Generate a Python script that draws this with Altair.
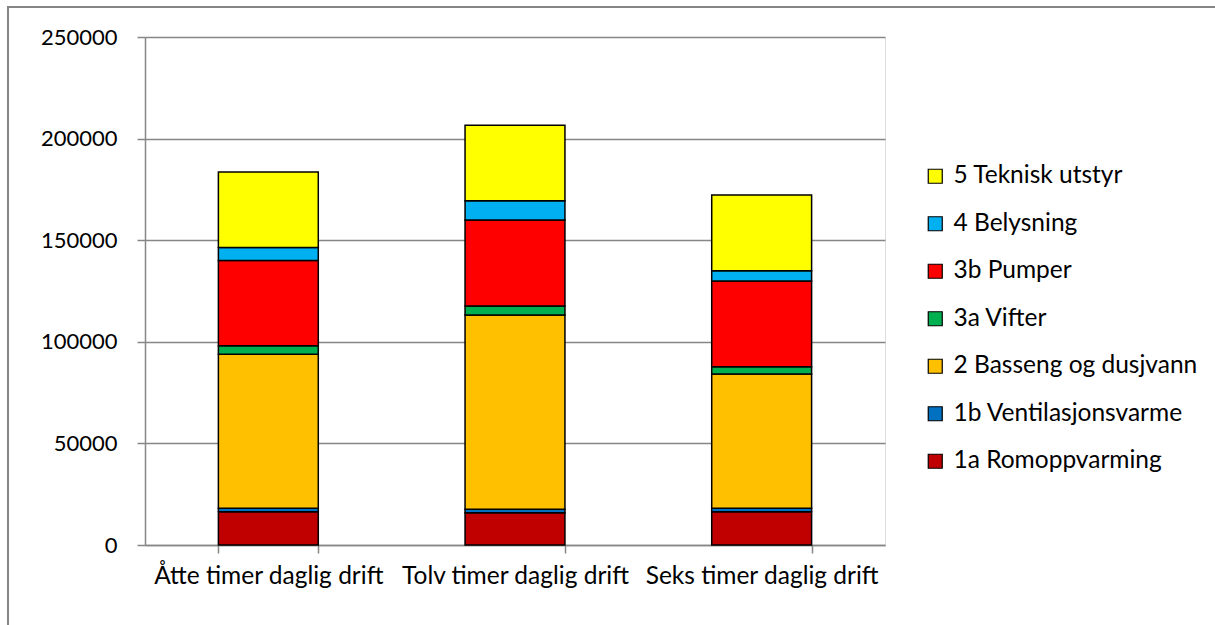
import altair as alt
import pandas as pd

categories = ["Åtte timer daglig drift", "Tolv timer daglig drift", "Seks timer daglig drift"]
series = ["1a Romoppvarming", "1b Ventilasjonsvarme", "2 Basseng og dusjvann",
          "3a Vifter", "3b Pumper", "4 Belysning", "5 Teknisk utstyr"]
colors = ["#C00000", "#0070C0", "#FFC000", "#00B050", "#FF0000", "#00B0F0", "#FFFF00"]

v_1a = [16400, 15900, 16400]
v_1b = [1700, 1700, 1700]
v_2 = [75800, 95600, 66000]
v_3a = [4100, 4400, 3600]
v_3b = [42000, 42300, 42200]
v_4 = [6400, 9500, 5100]
v_5 = [37200, 37200, 37200]
values = [v_1a, v_1b, v_2, v_3a, v_3b, v_4, v_5]

rows = []
for si, (s, vals) in enumerate(zip(series, values)):
    for c, v in zip(categories, vals):
        rows.append({"kategori": c, "serie": s, "verdi": v, "rekkefolge": si})
df = pd.DataFrame(rows)

FONT = "Lato"
FS_TEXT = 24.5
FS_NUM = 22

bars = alt.Chart(df).mark_bar(stroke="black", strokeWidth=1.5).encode(
    x=alt.X("kategori:N", sort=categories, title=None,
            scale=alt.Scale(paddingInner=0.595, paddingOuter=0.2975),
            axis=alt.Axis(labelAngle=0, tickBand="extent", tickSize=8, tickColor="#868686",
                          domainColor="#868686", domainWidth=1.5, tickWidth=1.5,
                          labelFontSize=FS_TEXT, labelFont=FONT, labelColor="black",
                          labelPadding=11, labelLimit=0)),
    y=alt.Y("verdi:Q", title=None, stack="zero",
            scale=alt.Scale(domain=[0, 250000], nice=False),
            axis=alt.Axis(values=[0, 50000, 100000, 150000, 200000, 250000], format="d",
                          tickSize=8, tickColor="#868686", domainColor="#868686",
                          domainWidth=1.5, tickWidth=1.5, gridColor="#868686", gridWidth=1.5,
                          labelFontSize=FS_NUM, labelFont=FONT, labelColor="black",
                          labelPadding=20)),
    color=alt.Color("serie:N", scale=alt.Scale(domain=series[::-1], range=colors[::-1]),
                    legend=alt.Legend(title=None, orient="none", legendX=778, legendY=127,
                                      symbolType="square", symbolSize=196,
                                      symbolStrokeColor="black", symbolStrokeWidth=1.2,
                                      symbolOpacity=1, labelFontSize=FS_TEXT, labelFont=FONT,
                                      labelColor="black", rowPadding=22.5, labelOffset=6,
                                      labelLimit=0)),
    order=alt.Order("rekkefolge:Q", sort="ascending"),
)

frame = alt.Chart(pd.DataFrame({"a": [0]})).mark_rect(
    fill=None, stroke="#868686", strokeWidth=2, clip=False
).encode(x=alt.value(-137), x2=alt.value(1200), y=alt.value(-30), y2=alt.value(700))

chart = alt.layer(frame, bars).properties(
    width=740, height=508,
    autosize=alt.AutoSizeParams(type="none"),
    padding={"left": 145, "top": 37, "right": 330, "bottom": 80},
).configure_view(stroke=None).configure(background="white")

chart.save("out.html", embed_options={"renderer": "svg", "actions": False})
